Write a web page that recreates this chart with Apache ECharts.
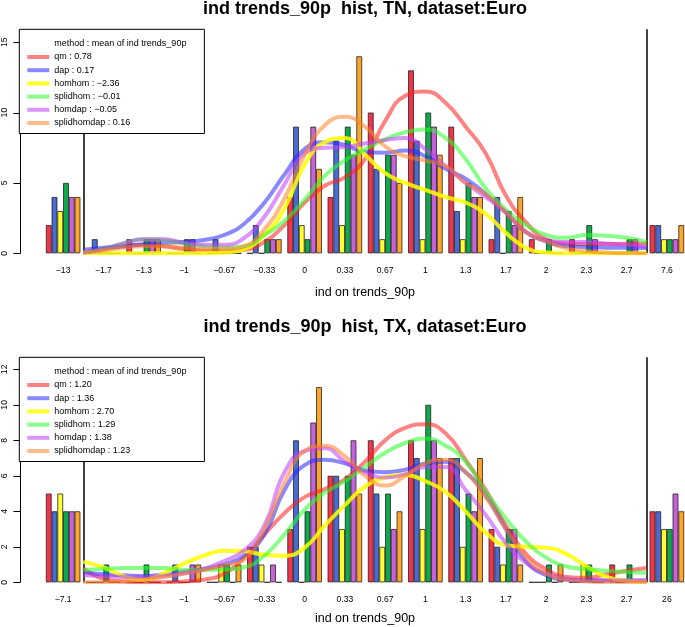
<!DOCTYPE html>
<html>
<head>
<meta charset="utf-8">
<script src="https://cdn.jsdelivr.net/npm/echarts@6/dist/echarts.min.js"></script>
<style>
html,body{margin:0;padding:0;background:#fff;}
#c{width:685px;height:627px;}
</style>
</head>
<body>
<div id="c"></div>
<script>
// ---------- data ----------
const M = '\u2212';
const tnCategories = [M+'13', M+'1.7', M+'1.3', M+'1', M+'0.67', M+'0.33', '0', '0.33', '0.67', '1', '1.3', '1.7', '2', '2.3', '2.7', '7.6'];
const txCategories = [M+'7.1', M+'1.7', M+'1.3', M+'1', M+'0.67', M+'0.33', '0', '0.33', '0.67', '1', '1.3', '1.7', '2', '2.3', '2.7', '26'];

const methods = ['qm', 'dap', 'homhom', 'splidhom', 'homdap', 'splidhomdap'];
const tnMeans = ['0.78', '0.17', M+'2.36', M+'0.01', M+'0.05', '0.16'];
const txMeans = ['1.20', '1.36', '2.70', '1.29', '1.38', '1.23'];

const legendHeader = 'method : mean of ind trends_90p';
const titleTN = 'ind trends_90p  hist, TN, dataset:Euro';
const titleTX = 'ind trends_90p  hist, TX, dataset:Euro';
const xAxisName = 'ind on trends_90p';

const tnTicks = [0, 5, 10, 15];
const txTicks = [0, 2, 4, 6, 8, 10, 12];
const tnMax = 15.92;
const txMax = 12.68;

// histogram counts (TN)
const tnQm          = [2,0,1,0,0,0,4,4,10,13,9,1,1,1,0,2];
const tnDap         = [4,1,0,0,1,2,9,8,6,8,3,4,0,0,0,2];
const tnHomhom      = [3,0,0,0,0,0,2,2,1,1,1,0,0,0,0,1];
const tnSplidhom    = [5,0,1,1,0,1,1,9,7,10,5,3,1,2,1,1];
const tnHomdap      = [4,0,1,1,0,1,9,7,7,9,4,2,0,1,1,1];
const tnSplidhomdap = [4,0,1,0,0,1,6,14,5,7,4,4,0,0,0,2];

// histogram counts (TX)
const txQm          = [5,0,0,0,0,2,3,6,8,8,7,3,0,0,1,4];
const txDap         = [4,0,0,1,0,2,8,6,5,7,7,2,0,0,0,4];
const txHomhom      = [5,0,0,0,1,1,0,3,2,3,2,1,0,1,0,3];
const txSplidhom    = [4,1,1,0,1,0,4,6,5,10,5,3,1,1,1,3];
const txHomdap      = [4,0,0,1,0,1,9,8,3,8,4,3,0,0,0,5];
const txSplidhomdap = [4,0,0,1,1,0,11,5,4,7,7,1,1,0,0,4];

// density curve sample positions (in bin-index units) and read values
const curveX = [0.5,1,1.5,2,2.5,3,3.5,4,4.5,5,5.5,6,6.5,7,7.5,8,8.5,9,9.5,10,10.5,11,11.5,12,12.5,13,13.5,14,14.5];
const outlierBreaks = [0.5, 14.5];

const tnCurveQm          = [0.05,0.3,0.5,0.6,0.5,0.3,0.2,0.15,0.25,0.8,2.0,3.6,4.8,5.4,6.7,9.4,11.2,11.5,10.7,9.0,7.1,4.1,2.2,1.0,0.7,0.65,0.66,0.68,0.7];
const tnCurveDap         = [0.25,0.4,0.5,0.65,0.75,0.8,0.95,1.3,2.1,3.6,5.6,7.4,7.9,7.7,7.2,7.15,7.3,6.9,6.0,5.3,4.2,2.9,1.5,0.85,0.5,0.45,0.4,0.4,0.38];
const tnCurveHomhom      = [0,0,0,0,0,0,0,0.05,0.3,1.3,3.2,6.3,7.9,8.2,7.0,5.7,5.0,4.5,4.0,3.6,2.8,1.45,0.4,0.05,0,0,0,0,0];
const tnCurveSplidhom    = [0.05,0.3,0.7,1.0,0.95,0.7,0.5,0.4,0.5,1.3,2.3,3.8,5.5,6.6,7.4,8.1,8.6,8.8,8.2,6.7,4.6,3.1,2.0,1.3,1.1,1.3,1.25,1.1,0.8];
const tnCurveHomdap      = [0.05,0.3,0.7,1.0,1.0,0.75,0.6,0.6,1.1,2.6,4.9,7.1,7.5,7.55,7.8,8.05,8.2,7.4,6.2,5.0,4.0,2.9,1.5,0.95,0.8,0.8,0.7,0.6,0.47];
const tnCurveSplidhomdap = [0.05,0.2,0.4,0.5,0.5,0.4,0.3,0.3,0.5,1.7,3.9,7.0,9.1,9.7,9.0,7.6,6.9,6.6,6.2,5.0,4.2,2.9,1.5,0.85,0.35,0.15,0.05,0,0];

const txCurveQm          = [0.8,0.2,0.05,0,0,0.05,0.15,0.5,1.4,2.7,3.9,4.8,5.25,5.8,6.8,8.0,8.7,8.9,8.4,6.9,5.2,3.2,1.6,0.75,0.3,0.25,0.45,0.65,0.8];
const txCurveDap         = [0.55,0.45,0.4,0.35,0.45,0.6,0.75,1.0,1.5,2.7,5.2,6.6,6.9,6.7,6.3,6.2,6.35,6.7,6.8,6.2,4.9,3.0,1.2,0.4,0.15,0.1,0.1,0.1,0.1];
const txCurveHomhom      = [1.15,0.85,0.35,0.15,0.5,1.05,1.5,1.78,1.75,1.55,1.5,1.95,3.2,4.35,5.4,5.9,6.05,5.7,5.1,4.0,2.8,2.1,2.0,1.95,1.6,0.9,0.3,0.1,0.05];
const txCurveSplidhom    = [0.7,0.75,0.8,0.8,0.8,0.7,0.7,0.72,0.85,1.5,2.7,4.1,5.05,5.7,6.5,7.3,7.85,8.1,7.7,6.8,5.1,3.6,2.3,1.4,0.9,0.75,0.65,0.58,0.54];
const txCurveHomdap      = [0.4,0.35,0.3,0.3,0.35,0.5,0.75,1.2,1.8,3.2,6.2,7.4,7.55,6.8,6.2,5.9,6.1,6.5,6.5,5.2,3.8,2.2,1.1,0.5,0.2,0.1,0.1,0.1,0.1];
const txCurveSplidhomdap = [0,0,0.05,0.15,0.3,0.5,0.7,0.95,1.3,3.0,5.6,7.4,7.7,7.1,6.0,5.45,6.0,6.7,6.9,6.2,4.8,3.0,1.4,0.5,0.15,0.05,0,0,0];

// ---------- styles ----------
const FONT = 'Liberation Sans, Arial, Helvetica, sans-serif';
const barColors = ['#f2344a', '#4a6bd3', '#ffff33', '#0fa84a', '#c862dc', '#ffa52a'];
const lineColors = ['rgba(255,30,30,0.55)', 'rgba(40,40,255,0.55)', 'rgba(255,255,0,0.85)', 'rgba(40,255,40,0.55)', 'rgba(190,60,250,0.55)', 'rgba(255,130,40,0.55)'];

const tnBars = [tnQm, tnDap, tnHomhom, tnSplidhom, tnHomdap, tnSplidhomdap];
const txBars = [txQm, txDap, txHomhom, txSplidhom, txHomdap, txSplidhomdap];
const tnCurves = [tnCurveQm, tnCurveDap, tnCurveHomhom, tnCurveSplidhom, tnCurveHomdap, tnCurveSplidhomdap];
const txCurves = [txCurveQm, txCurveDap, txCurveHomhom, txCurveSplidhom, txCurveHomdap, txCurveSplidhomdap];

const GRID_LEFT = 43, GRID_W = 644, AXIS_OFFSET = 23, TICK_LEN = 7;
const panels = [
  {top: 29.3, height: 224, max: tnMax, ticks: tnTicks, nameGap: 33},
  {top: 357.3, height: 225, max: txMax, ticks: txTicks, nameGap: 29.5}
];

function makeCatAxis(gi, cats) {
  return {
    type: 'category', gridIndex: gi, data: cats,
    axisLine: {show: false}, axisTick: {show: false}, splitLine: {show: false},
    axisLabel: {fontSize: 8.6, color: '#000', margin: 13, fontFamily: FONT, interval: 0},
    name: xAxisName, nameLocation: 'middle', nameGap: panels[gi].nameGap,
    nameTextStyle: {fontSize: 12.5, color: '#000', fontFamily: FONT}
  };
}
function makeYAxis(gi) {
  const p = panels[gi];
  return {
    type: 'value', gridIndex: gi, min: 0, max: p.max, offset: AXIS_OFFSET, position: 'left',
    axisLine: {show: false},
    axisTick: {show: false},
    splitLine: {show: false},
    axisLabel: {show: true, customValues: p.ticks, rotate: 90, margin: 11, fontSize: 8.6, color: '#000', fontFamily: FONT}
  };
}

const grids = panels.map(p => ({left: GRID_LEFT, width: GRID_W, top: p.top, height: p.height, outerBoundsMode: 'none'}));
const xAxes = [
  makeCatAxis(0, tnCategories),
  {type: 'value', gridIndex: 0, min: -0.5, max: 15.5, show: false},
  makeCatAxis(1, txCategories),
  {type: 'value', gridIndex: 1, min: -0.5, max: 15.5, show: false}
];
const yAxes = [makeYAxis(0), makeYAxis(1)];

const series = [];
const legends = [];
function addChart(gi, bars, curves, means) {
  const catIdx = gi * 2, valIdx = gi * 2 + 1;
  const ticks = panels[gi].ticks;
  bars.forEach((vals, k) => {
    series.push({
      type: 'bar', name: methods[k] + '_bar_' + gi, xAxisIndex: catIdx, yAxisIndex: gi,
      data: vals, barGap: '0%', barCategoryGap: '14.3%',
      itemStyle: {color: barColors[k], borderColor: '#222', borderWidth: 0.8},
      silent: true, z: 2
    });
  });
  const names = [];
  curves.forEach((vals, k) => {
    const nm = methods[k] + ' : ' + means[k];
    names.push(nm);
    const s = {
      type: 'line', name: nm, xAxisIndex: valIdx, yAxisIndex: gi,
      data: curveX.map((x, i) => [x, vals[i]]),
      smooth: 0.5, symbol: 'none', showSymbol: false,
      color: lineColors[k],
      lineStyle: {width: 4, color: lineColors[k]},
      silent: true, z: 3
    };
    if (k === 0) {
      s.markLine = {
        silent: true, symbol: 'none', label: {show: false}, z: 3,
        lineStyle: {color: '#000', width: 1.5, type: 'solid'},
        data: outlierBreaks.map(b => ({xAxis: b}))
      };
    }
    series.push(s);
  });
  // y-axis line (spanning the tick range only, as in R) and its ticks, placed through the axes
  series.push({
    type: 'custom', name: 'yaxis_' + gi, xAxisIndex: valIdx, yAxisIndex: gi,
    data: ticks.map(t => [-0.5, t]), silent: true, clip: false, z: 10,
    renderItem: function (params, api) {
      const p = api.coord([-0.5, api.value(1)]);
      const x = Math.round(p[0] - AXIS_OFFSET) + 0.5;
      const y = Math.round(p[1]) + 0.5;
      const children = [{type: 'line', shape: {x1: x - TICK_LEN, y1: y, x2: x, y2: y},
                         style: {stroke: '#000', lineWidth: 1}}];
      if (params.dataIndex === 0) {
        const top = api.coord([-0.5, ticks[ticks.length - 1]]);
        children.push({type: 'line', shape: {x1: x, y1: y, x2: x, y2: Math.round(top[1]) + 0.5},
                       style: {stroke: '#000', lineWidth: 1}});
      }
      return {type: 'group', children: children};
    }
  });
  // header entry for the legend
  series.push({type: 'line', name: legendHeader, xAxisIndex: valIdx, yAxisIndex: gi, data: [], symbol: 'none', silent: true});
  legends.push({
    left: 19.3, top: panels[gi].top, orient: 'vertical', z: 20,
    backgroundColor: '#fff', borderColor: '#000', borderWidth: 1, borderRadius: 0,
    padding: [9, 18, 5, 8], itemWidth: 22, itemHeight: 4, itemGap: 2.2,
    selectedMode: false,
    textStyle: {fontSize: 9, lineHeight: 11, color: '#000', fontFamily: FONT},
    data: [{name: legendHeader, icon: 'none'}].concat(names.map(n => ({name: n, icon: 'rect'})))
  });
}
addChart(0, tnBars, tnCurves, tnMeans);
addChart(1, txBars, txCurves, txMeans);

const option = {
  animation: false,
  title: [
    {text: titleTN, left: 365, top: 0, textAlign: 'center', padding: 0,
     textStyle: {fontSize: 18, fontWeight: 'bold', color: '#000', fontFamily: FONT}},
    {text: titleTX, left: 365, top: 318.5, textAlign: 'center', padding: 0,
     textStyle: {fontSize: 18, fontWeight: 'bold', color: '#000', fontFamily: FONT}}
  ],
  grid: grids,
  xAxis: xAxes,
  yAxis: yAxes,
  legend: legends,
  series: series
};

const chart = echarts.init(document.getElementById('c'));
chart.setOption(option);
</script>
</body>
</html>
